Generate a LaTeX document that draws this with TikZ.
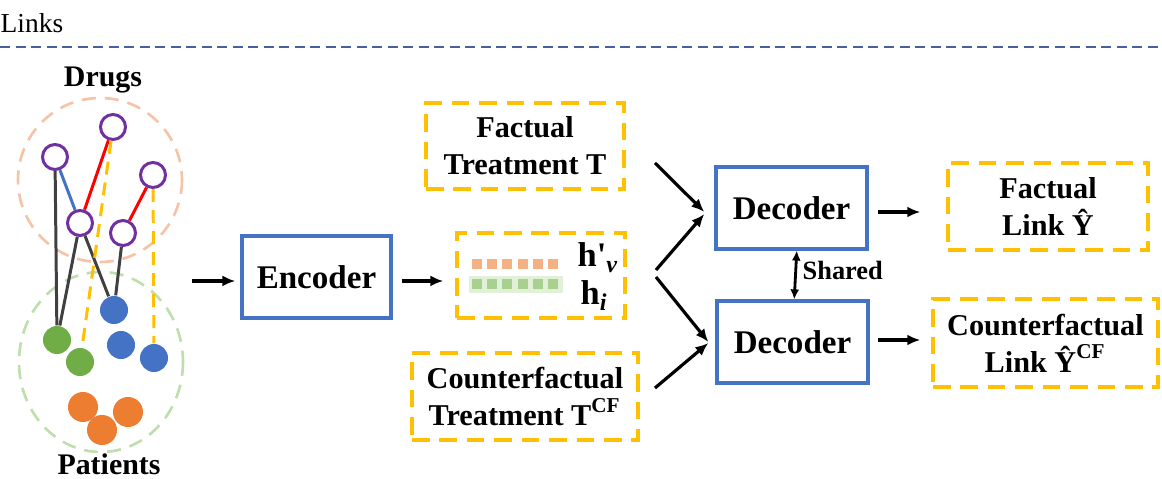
\documentclass[tikz,border=0pt]{standalone}
\usepackage{fontspec}
\setmainfont{Liberation Serif}
\usetikzlibrary{arrows,arrows.meta,positioning,shapes}

\definecolor{cblue}{RGB}{68,114,196}
\definecolor{cyellow}{RGB}{255,192,0}
\definecolor{cpurple}{RGB}{112,48,160}
\definecolor{cgreen}{RGB}{112,173,71}
\definecolor{corange}{RGB}{237,125,49}
\definecolor{cpeach}{RGB}{245,195,165}
\definecolor{clgreen}{RGB}{190,222,172}
\definecolor{csqorange}{RGB}{244,177,131}
\definecolor{csqgreen}{RGB}{169,209,142}
\definecolor{cbggreen}{RGB}{226,240,217}
\definecolor{cgray}{RGB}{64,64,64}
\definecolor{cline}{RGB}{72,96,160}

\begin{document}
\begin{tikzpicture}[x=0.01cm,y=-0.01cm]
    \tikzstyle{drug} = [draw=cpurple, circle, fill=white, line width=0.85pt,
    minimum size=0.25cm, inner sep=0pt]
    \tikzstyle{pat} = [circle, minimum size=0.28cm, inner sep=0pt]
    \tikzstyle{blk} = [draw=cblue, line width=0.9pt,
    font=\bfseries\fontsize{9.4}{11}\selectfont]
    \tikzstyle{dbox} = [draw=cyellow, line width=0.9pt,
    dash pattern=on 5pt off 2.8pt, align=center,
    font=\bfseries\fontsize{8.6}{10.6}\selectfont]
    \tikzstyle{arr} = [-{Latex[length=0.13cm,width=0.11cm]}, line width=0.9pt]
    \tikzstyle{edge} = [line width=0.85pt]
    \tikzstyle{lbl} = [inner sep=0pt, font=\bfseries\fontsize{8.5}{10}\selectfont]

    \useasboundingbox (0,0) rectangle (1162,479);

    % header
    \node [anchor=base west, inner sep=0pt, font=\fontsize{7.8}{9}\selectfont]
    (links) at (0,33) {Links};
    \draw [cline, line width=0.85pt, dash pattern=on 0.1cm off 0.055cm]
    (0,47) -- (1162,47);

    % drugs and patients
    \draw [cpeach, line width=0.75pt, dash pattern=on 0.14cm off 0.09cm]
    (100,180) circle [radius=82];
    \draw [clgreen, line width=0.75pt, dash pattern=on 0.14cm off 0.09cm]
    (101,362) ellipse [x radius=82, y radius=90];

    \node [lbl, anchor=base] (drugs) at (103,87) {Drugs};
    \node [lbl, anchor=base] (patients) at (109,475) {Patients};

    \draw
    (113,127) node [drug] (d1) {}
    (55,157) node [drug] (d2) {}
    (153,175) node [drug] (d3) {}
    (80,223) node [drug] (d4) {}
    (123,233) node [drug] (d5) {}

    (57,340) node [pat, fill=cgreen] (p1) {}
    (80,362) node [pat, fill=cgreen] (p2) {}
    (114,310) node [pat, fill=cblue] (p3) {}
    (121,345) node [pat, fill=cblue] (p4) {}
    (154,358) node [pat, fill=cblue] (p5) {}

    (83,407) node [pat, fill=corange, minimum size=0.3cm] (o1) {}
    (128,412) node [pat, fill=corange, minimum size=0.3cm] (o2) {}
    (102,430) node [pat, fill=corange, minimum size=0.3cm] (o3) {}
    ;

    \draw [edge, cblue] (d2) -- (d4);
    \draw [edge, red] (d1) -- (d4);
    \draw [edge, red] (d3) -- (d5);
    \draw [edge, cgray] (p1) -- (d2);
    \draw [edge, cgray] (p1) -- (d4) -- (p3) -- (d5);
    \draw [edge, cyellow, dash pattern=on 0.13cm off 0.08cm] (d1) -- (p2);
    \draw [edge, cyellow, dash pattern=on 0.13cm off 0.08cm] (d3) -- (p5);

    % encoder and embeddings
    \node [blk, minimum width=1.49cm, minimum height=0.82cm]
    (encoder) at (316.5,277) {Encoder};
    \node [dbox, minimum width=1.68cm, minimum height=0.85cm]
    (emb) at (541,275.5) {};
    \fill [cbggreen] (469,276) rectangle (563,293);
    \foreach \i in {0,...,5} {
        \fill [csqorange] ({472+\i*15.2},259) rectangle +(10,10);
        \fill [csqgreen] ({472+\i*15.2},279.5) rectangle +(10,10);
    }
    \node [lbl, anchor=base west, font=\bfseries\fontsize{9.8}{11}\selectfont]
    (hv) at (577,267) {h\textquotesingle\textsubscript{\textit{v}}};
    \node [lbl, anchor=base west, font=\bfseries\fontsize{9.8}{11}\selectfont]
    (hi) at (580,305) {h\textsubscript{\textit{i}}};

    % treatments
    \node [dbox, minimum width=1.98cm, minimum height=0.86cm]
    (ftreat) at (525,146) {Factual\\Treatment T};
    \node [dbox, minimum width=2.26cm, minimum height=0.87cm]
    (cftreat) at (525,396.5) {Counterfactual\\Treatment T\textsuperscript{CF}};

    % decoders and outputs
    \node [blk, minimum width=1.51cm, minimum height=0.82cm]
    (dec1) at (791.5,208) {Decoder};
    \node [blk, minimum width=1.51cm, minimum height=0.82cm]
    (dec2) at (792.5,342) {Decoder};
    \node [dbox, minimum width=2.0cm, minimum height=0.87cm]
    (flink) at (1048,206.5) {Factual\\Link \^{Y}};
    \node [dbox, minimum width=2.25cm, minimum height=0.88cm]
    (cflink) at (1045.5,343) {Counterfactual\\Link \^{Y}\textsuperscript{CF}};

    \node [anchor=west, inner sep=0pt, font=\bfseries\fontsize{7.5}{9}\selectfont]
    (shared) at (802,270) {Shared};

    % arrows
    \coordinate (gin) at (192,281);
    \coordinate (t1) at (655,163);
    \coordinate (t2) at (656,270);
    \coordinate (t3) at (656,277);
    \coordinate (t4) at (655,388);

    \draw [arr] (gin) -- ([shift={(-5,4)}]encoder.west);
    \draw [arr] ([shift={(9,4)}]encoder.east) -- ([shift={(-12,5.5)}]emb.west);
    \draw [arr] (t1) -- ([shift={(-10,4)}]dec1.west);
    \draw [arr] (t2) -- ([shift={(-10,6)}]dec1.west);
    \draw [arr] (t3) -- ([shift={(-7,0)}]dec2.west);
    \draw [arr] (t4) -- ([shift={(-7,1)}]dec2.west);
    \draw [arr] ([shift={(9,4)}]dec1.east) -- ([shift={(-26,5.5)}]flink.west);
    \draw [arr] ([shift={(8,-2)}]dec2.east) -- ([shift={(-11,-3)}]cflink.west);
    \draw [{Latex[length=0.1cm,width=0.09cm]}-{Latex[length=0.1cm,width=0.09cm]},
    line width=0.8pt] ([xshift=1.5]dec1.south) -- ([xshift=0.5]dec2.north);

\end{tikzpicture}
\end{document}
